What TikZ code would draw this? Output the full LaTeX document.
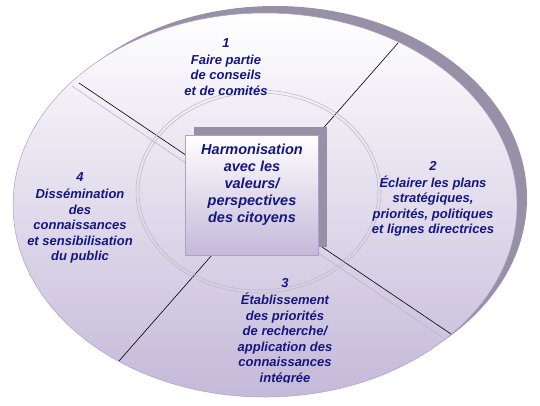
\documentclass[tikz,border=0pt]{standalone}
\usepackage{fontspec}
\setsansfont{Liberation Sans}
\usetikzlibrary{positioning, shapes.geometric}

\definecolor{inkblue}{RGB}{22,22,128}
\definecolor{rimgray}{RGB}{152,144,166}
\definecolor{lilac}{RGB}{196,185,217}
\definecolor{edgelilac}{RGB}{172,160,202}
\definecolor{ringgray}{RGB}{192,188,198}
\definecolor{seamgray}{RGB}{188,182,200}

\begin{document}
\begin{tikzpicture}[x=1pt, y=-1pt,
        % Define styles for the plate, the hub and the labels
        seglabel/.style={align=center, text=inkblue, font=\fontsize{13}{15.5}\selectfont\sffamily\bfseries\itshape},
        hublabel/.style={align=center, text=inkblue, font=\fontsize{14.5}{17}\selectfont\sffamily\bfseries\itshape},
        hubbox/.style={rectangle, minimum width=133pt, minimum height=120pt, inner sep=0pt},
        divider/.style={draw=black, line width=0.6pt},
        seam/.style={draw=seamgray, line width=0.6pt},
        ring/.style={draw=ringgray, line width=0.6pt}
    ]
        \useasboundingbox (0,0) rectangle (540,405);

        % --------------------------------------------------------
        % Plate and its shadow
        % --------------------------------------------------------
        \fill[rimgray] (275,198) ellipse [x radius=252, y radius=192];
        \shade[top color=white, bottom color=lilac, draw=edgelilac, line width=0.5pt]
            (265,205) ellipse [x radius=252, y radius=192];

        % --------------------------------------------------------
        % Dividing lines
        % --------------------------------------------------------
        \coordinate (nwseam) at (72,86);
        \coordinate (seseam) at (442,337);
        \coordinate (nwend) at (79,83);
        \coordinate (seend) at (451,334);
        \coordinate (neend) at (398,43);
        \coordinate (swend) at (119,361);

        \draw[seam] (nwseam) -- (seseam);
        \draw[divider] (nwend) -- (seend);
        \draw[divider] (neend) -- (swend);

        % Inner ring
        \draw[ring] (258.5,191.5) ellipse [x radius=122.5, y radius=101.5];
        \draw[ring] (258.5,191.5) ellipse [x radius=119.5, y radius=98.5];

        % --------------------------------------------------------
        % Central hub
        % --------------------------------------------------------
        \node[hubbox, fill=rimgray] (hubshadow) at (260.5,187) {};
        \node[hubbox, top color=white, bottom color=lilac, draw=edgelilac, line width=0.6pt] (hub) at (251.5,195) {};
        \node[hublabel] (hubtext) at (252,185) {Harmonisation\\avec les\\valeurs/\\perspectives\\des citoyens};

        % --------------------------------------------------------
        % Segment labels
        % --------------------------------------------------------
        \node[seglabel] (seg1) at (226,67) {1\\[1.5pt]Faire partie\\de conseils\\et de comités};
        \node[seglabel] (seg2) at (433,199) {2\\[1.5pt]Éclairer les plans\\stratégiques,\\priorités, politiques\\et lignes directrices};
        \begin{scope}
            \clip (0,0) rectangle (540,382);
            \node[seglabel] (seg3) at (285,332) {3\\[1.5pt]Établissement\\des priorités\\de recherche/\\application des\\connaissances\\intégrée};
        \end{scope}
        \node[seglabel] (seg4) at (80,218) {4\\[1.5pt]Dissémination\\des\\connaissances\\et sensibilisation\\du public};

    \end{tikzpicture}
\end{document}
